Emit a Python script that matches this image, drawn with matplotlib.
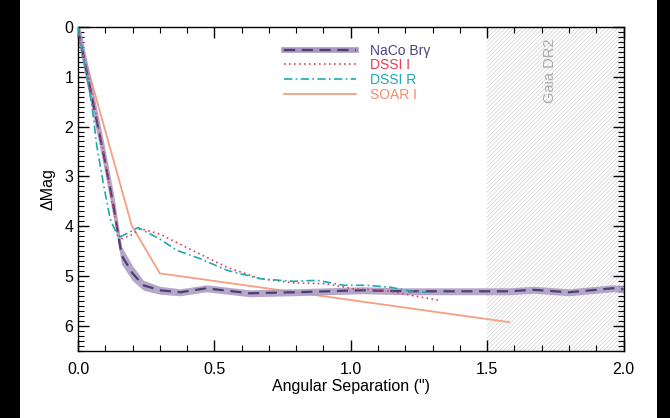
import numpy as np
import matplotlib
matplotlib.use("Agg")
import matplotlib.pyplot as plt
from matplotlib.patches import Rectangle
from matplotlib.ticker import MultipleLocator

plt.rcParams['font.family'] = ['Liberation Sans', 'DejaVu Sans']
plt.rcParams['hatch.linewidth'] = 0.5

# NaCo Br-gamma contrast curve (with uncertainty band)
naco_sep = [0.0, 0.05, 0.093, 0.13, 0.16, 0.20, 0.24, 0.30, 0.375, 0.47,
            0.55, 0.63, 0.79, 1.04, 1.2, 1.4, 1.58, 1.67, 1.80, 1.96, 2.0]
naco_mag = [0.05, 1.39, 2.53, 3.59, 4.59, 4.95, 5.19, 5.29, 5.33, 5.25,
            5.30, 5.35, 5.33, 5.29, 5.31, 5.31, 5.31, 5.28, 5.33, 5.25, 5.27]
naco_err = [0.25, 0.25, 0.25, 0.25, 0.18, 0.15, 0.10, 0.08, 0.07, 0.07,
            0.07, 0.07, 0.07, 0.07, 0.07, 0.07, 0.07, 0.07, 0.07, 0.07, 0.07]

# DSSI I
dssi_i_sep = [0.0, 0.05, 0.10, 0.13, 0.154, 0.19, 0.228, 0.30, 0.42, 0.547,
              0.67, 0.79, 0.91, 1.01, 1.12, 1.22, 1.32]
dssi_i_mag = [0.05, 1.30, 2.70, 3.70, 4.26, 4.20, 4.05, 4.16, 4.49, 4.83,
              5.06, 5.14, 5.16, 5.26, 5.29, 5.39, 5.49]

# DSSI R
dssi_r_sep = [0.0, 0.05, 0.069, 0.093, 0.118, 0.148, 0.18, 0.22, 0.30, 0.363,
              0.45, 0.547, 0.67, 0.79, 0.877, 0.975, 1.06, 1.147, 1.22, 1.28]
dssi_r_mag = [0.0, 1.53, 2.39, 3.15, 3.86, 4.23, 4.15, 4.03, 4.26, 4.49,
              4.66, 4.89, 5.06, 5.11, 5.09, 5.19, 5.19, 5.23, 5.31, 5.33]

# SOAR I
soar_sep = [0.0, 0.197, 0.30, 1.58]
soar_mag = [0.12, 3.99, 4.95, 5.93]

gaia_lim = 1.5

fig = plt.figure(figsize=(6.7, 4.18), dpi=100, facecolor='black')
fig.patches.append(Rectangle((20 / 670, 0), 637 / 670, 1, transform=fig.transFigure,
                             facecolor='white', edgecolor='none', zorder=-10))
ax = fig.add_axes([78 / 670, 1 - 350.5 / 418, 545.5 / 670, 323.5 / 418])

# Gaia DR2 region
ax.axvspan(gaia_lim, 2.0, facecolor='white', edgecolor='#d0d0d0', hatch='////////',
           linewidth=0, zorder=0)
ax.text(1.73, 0.88, 'Gaia DR2', rotation=90, color='#aaaaaa', fontsize=10.5,
        ha='center', va='center')

naco_sep = np.array(naco_sep)
naco_mag = np.array(naco_mag)
naco_err = np.array(naco_err)
band = ax.fill_between(naco_sep, naco_mag - naco_err, naco_mag + naco_err,
                       color='#a898c0', alpha=0.85, linewidth=0, zorder=2)
naco_line, = ax.plot(naco_sep, naco_mag, color='#4e3f72', ls=(0, (5, 3)), lw=1.6, zorder=3)
band_h, = ax.plot([], [], color='#a898c0', lw=4)
ax.plot(dssi_i_sep, dssi_i_mag, color='#e0405a', ls=(0, (1, 2)), lw=1.2, zorder=4,
        label='DSSI I')
ax.plot(dssi_r_sep, dssi_r_mag, color='#1ea8b2', ls=(0, (5, 2, 1, 2)), lw=1.2, zorder=4,
        label='DSSI R')
ax.plot(soar_sep, soar_mag, color='#f5a080', lw=1.3, zorder=1, label='SOAR I')

handles, labels = ax.get_legend_handles_labels()
leg = ax.legend([(band_h, naco_line)] + handles, ['NaCo Brγ'] + labels,
                loc='upper left', bbox_to_anchor=(0.365, 0.97), frameon=False,
                fontsize=10, handlelength=5.2, handletextpad=1.0, labelspacing=0.05,
                borderpad=0)
for txt, c in zip(leg.get_texts(), ['#4e3f82', '#e0405a', '#1ea8b2', '#f58a68']):
    txt.set_color(c)

ax.set_xlim(0, 2.0)
ax.set_ylim(6.5, 0)
ax.xaxis.set_major_locator(MultipleLocator(0.5))
ax.xaxis.set_minor_locator(MultipleLocator(0.1))
ax.yaxis.set_major_locator(MultipleLocator(1))
ax.yaxis.set_minor_locator(MultipleLocator(0.1))
ax.xaxis.set_major_formatter(matplotlib.ticker.FormatStrFormatter('%.1f'))
ax.tick_params(which='both', direction='in', top=True, right=True, labelsize=11.5)
ax.tick_params(which='major', length=8, width=1)
ax.tick_params(which='minor', length=4, width=0.8)
ax.tick_params(axis='x', pad=8)
for s in ax.spines.values():
    s.set_linewidth(1)

ax.set_xlabel('Angular Separation (")', fontsize=11.5, labelpad=2)
ax.set_ylabel('ΔMag', fontsize=11.5, labelpad=6)

fig.savefig('out.png', dpi=100, facecolor=fig.get_facecolor())
